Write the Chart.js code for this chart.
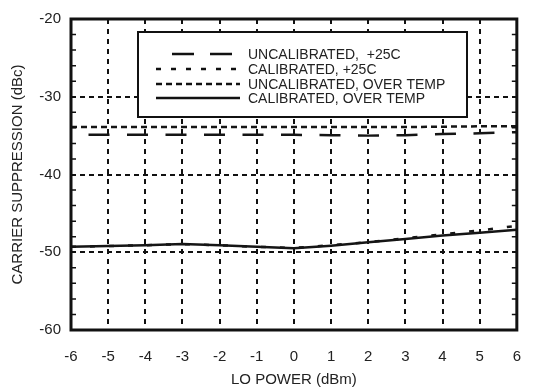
<!DOCTYPE html>
<html>
<head>
<meta charset="utf-8">
<script src="https://cdn.jsdelivr.net/npm/chart.js@4.4.0/dist/chart.umd.min.js"></script>
<style>
  html, body { margin: 0; padding: 0; background: #fff; }
  #wrap { width: 539px; height: 391px; }
</style>
</head>
<body>
<div id="wrap"><canvas id="myChart"></canvas></div>
<script>
// LO power (dBm)
const loPower = [-6, -5, -4, -3, -2, -1, 0, 1, 2, 3, 4, 5, 6];
// carrier suppression (dBc)
const uncal25 = [-34.9, -34.9, -34.9, -34.9, -34.9, -34.9, -34.9, -34.95, -35.0, -34.95, -34.8, -34.7, -34.55];
const cal25 = [-49.3, -49.2, -49.1, -48.95, -49.1, -49.3, -49.45, -49.1, -48.7, -48.2, -47.7, -47.2, -46.6];
const uncalTemp = [-33.9, -33.9, -33.9, -33.9, -33.9, -33.9, -33.9, -33.9, -33.9, -33.9, -33.85, -33.8, -33.8];
const calTemp = [-49.3, -49.2, -49.1, -48.95, -49.1, -49.3, -49.5, -49.15, -48.7, -48.3, -47.85, -47.5, -47.1];
const yTicks = [-60, -50, -40, -30, -20];

const ctx = document.getElementById('myChart');
Chart.defaults.font.family = '"Liberation Sans", Arial, sans-serif';
Chart.defaults.color = '#222';

function pts(vals) {
    return vals.map((v, i) => ({x: loPower[i], y: v}));
}

// frame, inner minor ticks and the boxed legend
const framePlugin = {
    id: 'frame',
    afterDatasetsDraw(chart) {
        const c = chart.ctx;
        const a = chart.chartArea;
        const ys = chart.scales.y;
        c.save();
        c.strokeStyle = '#111';
        c.lineWidth = 1.5;
        for (let v = -58; v < -20; v += 2) {
            if (v % 10 === 0) continue;
            const p = ys.getPixelForValue(v);
            c.beginPath();
            c.moveTo(a.left, p); c.lineTo(a.left + 5, p);
            c.moveTo(a.right, p); c.lineTo(a.right - 5, p);
            c.stroke();
        }
        c.lineWidth = 3;
        c.strokeRect(a.left, a.top, a.right - a.left, a.bottom - a.top);

        // legend box
        const bx = a.left + 67, by = a.top + 13, bw = 329, bh = 85;
        c.fillStyle = '#fff';
        c.fillRect(bx, by, bw, bh);
        c.lineWidth = 2;
        c.strokeRect(bx, by, bw, bh);
        const rows = [22, 37, 52, 66];
        c.font = '14px "Liberation Sans", Arial, sans-serif';
        c.textBaseline = 'middle';
        c.textAlign = 'left';
        chart.data.datasets.forEach((ds, i) => {
            const y = by + rows[i];
            c.strokeStyle = '#111';
            c.lineWidth = ds.borderWidth;
            c.setLineDash(ds.legendDash || []);
            c.lineDashOffset = ds.legendOffset || 0;
            c.beginPath();
            c.moveTo(bx + 18, y);
            c.lineTo(bx + 102, y);
            c.stroke();
            c.setLineDash([]);
            c.fillStyle = '#222';
            c.fillText(ds.label, bx + 110, y + 1);
        });
        c.restore();
    }
};

new Chart(ctx, {
    type: 'line',
    data: {
        datasets: [
            {
                label: 'UNCALIBRATED,  +25C',
                data: pts(uncal25),
                borderColor: '#151515',
                borderWidth: 2.5,
                borderDash: [21, 17.5],
                borderDashOffset: 21,
                legendDash: [22, 16],
                legendOffset: 22,
                pointRadius: 0
            },
            {
                label: 'CALIBRATED, +25C',
                data: pts(cal25),
                borderColor: '#151515',
                borderWidth: 2.5,
                borderDash: [5, 14],
                legendDash: [5, 10],
                pointRadius: 0
            },
            {
                label: 'UNCALIBRATED, OVER TEMP',
                data: pts(uncalTemp),
                borderColor: '#151515',
                borderWidth: 2.5,
                borderDash: [6, 4],
                legendDash: [6, 4],
                pointRadius: 0
            },
            {
                label: 'CALIBRATED, OVER TEMP',
                data: pts(calTemp),
                borderColor: '#151515',
                borderWidth: 2.5,
                pointRadius: 0
            }
        ]
    },
    options: {
        responsive: true,
        maintainAspectRatio: false,
        animation: false,
        layout: { padding: { top: 14, right: 6, left: 0, bottom: 0 } },
        plugins: {
            legend: { display: false },
            tooltip: { enabled: false }
        },
        scales: {
            x: {
                type: 'linear',
                min: -6,
                max: 6,
                ticks: { stepSize: 1, padding: 18, font: { size: 15 } },
                grid: {
                    drawTicks: false,
                    color: (c) => (c.tick && (c.tick.value === -6 || c.tick.value === 6)) ? 'rgba(0,0,0,0)' : '#111',
                    lineWidth: 2
                },
                border: { display: false, dash: [5, 5] },
                title: { display: true, text: 'LO POWER (dBm)', font: { size: 15 }, padding: { top: 0, bottom: 2 } },
                afterFit: (s) => { s.height = 61; }
            },
            y: {
                min: -60,
                max: -20,
                afterBuildTicks: (s) => { s.ticks = yTicks.map(v => ({value: v})); },
                ticks: { padding: 10, font: { size: 15 } },
                grid: {
                    drawTicks: false,
                    color: (c) => (c.tick && (c.tick.value === -60 || c.tick.value === -20)) ? 'rgba(0,0,0,0)' : '#111',
                    lineWidth: 2
                },
                border: { display: false, dash: [5, 4] },
                title: { display: true, text: 'CARRIER SUPPRESSION (dBc)', font: { size: 15 }, padding: { top: 9, bottom: 0 } },
                afterFit: (s) => { s.width = 71; }
            }
        }
    },
    plugins: [framePlugin]
});
</script>
</body>
</html>
